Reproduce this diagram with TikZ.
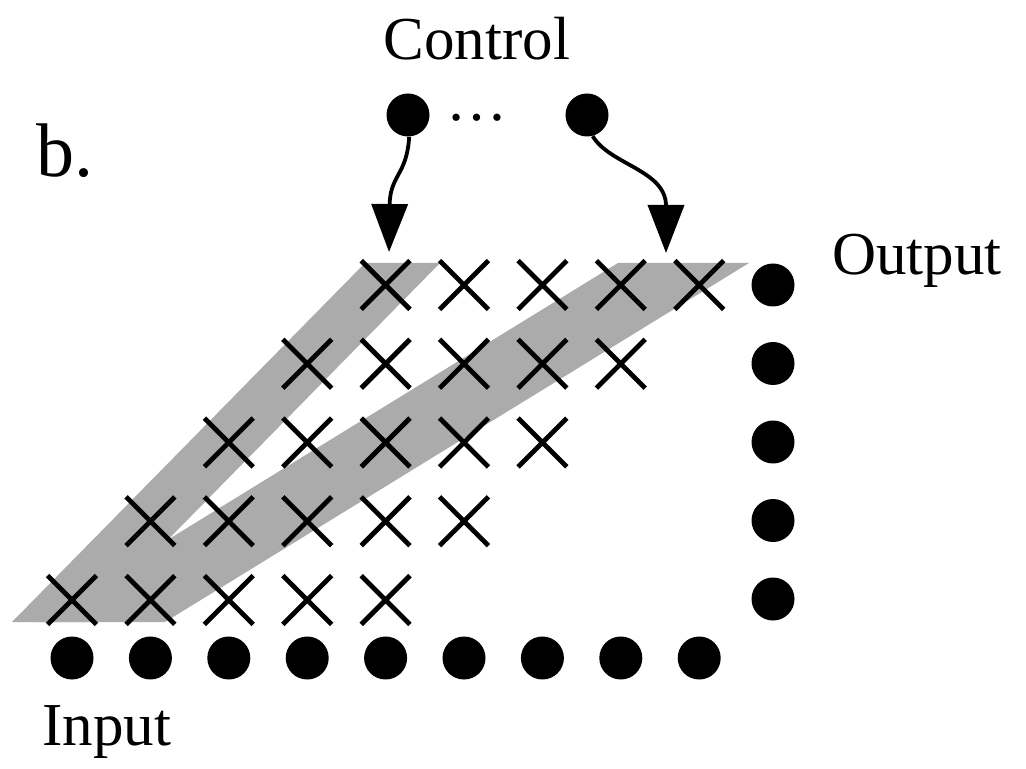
\documentclass[tikz,border=0pt]{standalone}
\usepackage{fontspec}
\setmainfont{Liberation Serif}
\usetikzlibrary{shapes.misc,arrows.meta}

\begin{document}
\begin{tikzpicture}[x=0.5pt,y=-0.5pt,
    cruz/.style={cross out,draw,line width=2.4pt,minimum size=22pt,inner sep=0pt},
    punto/.style={circle,fill,minimum size=21.5pt,inner sep=0pt},
    etiqueta/.style={inner sep=0pt,font=\fontsize{30.5}{36}\selectfont},
    flecha/.style={line width=1.9pt,-{Triangle[length=24pt,width=18pt]}},
    banda/.style={fill=black!33}]
    \useasboundingbox (0,0) rectangle (1026,769);

    % Bandas
    \fill[banda] (12,622) -- (87,622) -- (440,263) -- (365,263) -- cycle;
    \fill[banda] (34,622) -- (165,622) -- (749,263) -- (618,263) -- cycle;

    % Cruces
    \foreach \r in {0,...,4}
        \foreach \c in {0,...,4}
            \node[cruz] (x-\r-\c) at ({72+78.4*(\r+\c)},{600-78.75*\r}) {};

    % Entrada
    \foreach \c in {0,...,8}
        \node[punto] (in-\c) at ({72+78.4*\c},658) {};
    \node[etiqueta,anchor=base west] (input) at (42,745) {Input};

    % Salida
    \foreach \r in {0,...,4}
        \node[punto] (out-\r) at (773,{599-78.5*\r}) {};
    \node[etiqueta,anchor=base west] (output) at (832,275) {Output};

    % Control
    \node[punto] (c1) at (408,115) {};
    \node[punto] (c2) at (587,115) {};
    \node[etiqueta,anchor=base] (puntos) at (477,121) {…};
    \node[etiqueta,anchor=base] (control) at (477,60) {Control};
    \coordinate (t1) at (389,252);
    \coordinate (t2) at (666,253);
    \draw[flecha] (c1.-87) .. controls (407,175) and (390,175) .. (t1);
    \draw[flecha] (c2.-75) .. controls (610,165) and (666,170) .. (t2);

    \node[etiqueta,anchor=base west,font=\fontsize{38}{44}\selectfont] (b) at (36,177) {b.};

\end{tikzpicture}
\end{document}
